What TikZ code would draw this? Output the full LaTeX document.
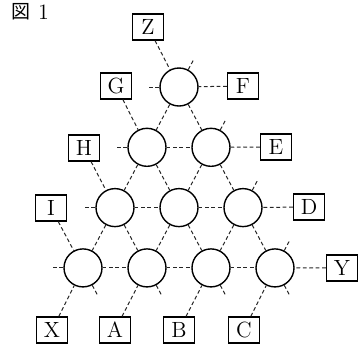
\documentclass[tikz,border=0pt]{standalone}
\usepackage{fontspec}
\newfontfamily\jpfont{Noto Sans CJK JP}
\tikzset{
  slot/.style={circle, draw, line width=0.7pt, minimum size=19pt, inner sep=0pt},
  tag/.style={draw, line width=0.65pt, minimum width=15.5pt, minimum height=13pt,
    inner sep=0pt, font=\fontsize{11}{13}\selectfont},
  link/.style={draw=black!85, line width=0.5pt, dash pattern=on 1.9pt off 1.3pt},
}
\begin{document}
\begin{tikzpicture}[x=0.5pt, y=-0.5pt]
  \useasboundingbox (0,0) rectangle (360,345);

  % caption
  \node[font=\jpfont\fontsize{9.5}{11}\selectfont] (figmark) at (21.3,12) {図};
  \node[font=\fontsize{11}{13}\selectfont] (fignum) at (43.5,12.5) {1};

  % triangular array of empty circles
  \foreach \r in {0,...,3}
    \foreach \k in {0,...,\r}
      \node[slot] (c\r\k) at ({179-32*\r+64*\k},{87+60.3*\r}) {};

  % labelled boxes around the triangle
  \node[tag] (Z) at (148,27) {Z};
  \node[tag] (G) at (116,86) {G};
  \node[tag] (H) at (84,148) {H};
  \node[tag] (I) at (51,208) {I};
  \node[tag] (F) at (243,86) {F};
  \node[tag] (E) at (276,147) {E};
  \node[tag] (D) at (309,207) {D};
  \node[tag] (Y) at (342,268) {Y};
  \node[tag] (X) at (52,330) {X};
  \node[tag] (A) at (115,330) {A};
  \node[tag] (B) at (179,330) {B};
  \node[tag] (C) at (244,330) {C};

  % lines between neighbouring circles
  \foreach \r in {1,...,3}{
    \pgfmathtruncatemacro{\last}{\r-1}
    \foreach \k in {0,...,\last}{
      \pgfmathtruncatemacro{\nk}{\k+1}
      \draw[link] (c\r\k) -- (c\r\nk);
    }
  }
  \foreach \r in {0,...,2}{
    \pgfmathtruncatemacro{\nr}{\r+1}
    \foreach \k in {0,...,\r}{
      \pgfmathtruncatemacro{\nk}{\k+1}
      \draw[link] (c\r\k) -- (c\nr\k);
      \draw[link] (c\r\k) -- (c\nr\nk);
    }
  }

  % lines to the boxes
  \foreach \b/\c in {Z/c00, G/c10, H/c20, I/c30, F/c00, E/c11, D/c22, Y/c33,
                     X/c30, A/c31, B/c32, C/c33}
    \draw[link] (\b) -- (\c);

  % short open stubs
  \foreach \c/\a [count=\i] in {c00/180, c00/61.9, c10/180, c11/61.9, c20/180,
      c22/61.9, c30/180, c30/298.1, c31/298.1, c32/298.1, c33/61.9, c33/298.1}{
    \coordinate (stub\i) at ([shift={(\a:15pt)}]\c.center);
    \draw[link] (\c) -- (stub\i);
  }
\end{tikzpicture}
\end{document}
